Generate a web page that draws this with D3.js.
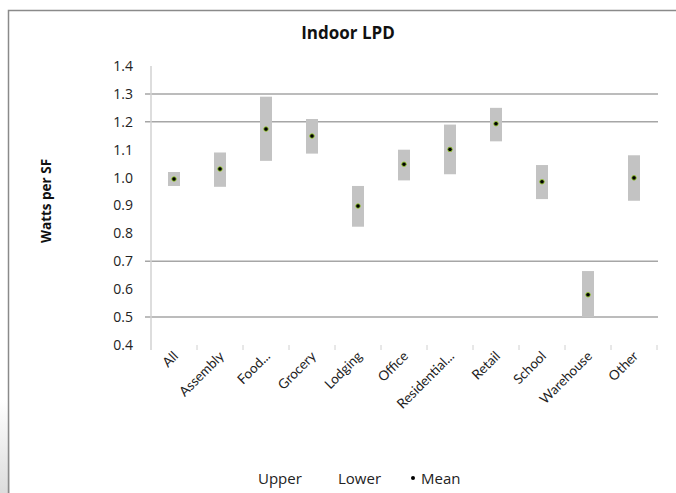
<!DOCTYPE html>
<html>
<head>
<meta charset="utf-8">
<script src="https://cdn.jsdelivr.net/npm/d3@7"></script>
<style>
  html, body { margin: 0; padding: 0; background: #fff; }
  svg { display: block; }
</style>
</head>
<body>
<svg id="chart" width="676" height="493"></svg>
<script>
// Indoor lighting power density by building type (W/SF): range and mean
const categories = ["All", "Assembly", "Food...", "Grocery", "Lodging", "Office",
  "Residential...", "Retail", "School", "Warehouse", "Other"];
const upper = [1.02, 1.09, 1.29, 1.21, 0.97, 1.10, 1.19, 1.25, 1.045, 0.665, 1.08];
const lower = [0.97, 0.967, 1.06, 1.086, 0.824, 0.99, 1.012, 1.13, 0.923, 0.50, 0.917];
const mean  = [0.995, 1.031, 1.174, 1.149, 0.898, 1.048, 1.101, 1.193, 0.985, 0.58, 0.999];
const yTicks = [0.4, 0.5, 0.6, 0.7, 0.8, 0.9, 1.0, 1.1, 1.2, 1.3, 1.4];
const gridValues = [0.5, 0.7, 1.2, 1.3];
const legendItems = ["Upper", "Lower", "Mean"];

const svg = d3.select("#chart");
const font = "'Open Sans', 'Noto Sans', sans-serif";
const labelFont = "Lato, 'Open Sans', sans-serif";

// outer chart frame (top and left edges)
const defs = svg.append("defs");
const shade = defs.append("linearGradient").attr("id", "shade")
  .attr("x1", 0).attr("y1", 0).attr("x2", 0).attr("y2", 1);
shade.append("stop").attr("offset", "0%").attr("stop-color", "#fff");
shade.append("stop").attr("offset", "100%").attr("stop-color", "#dcdcdc");
svg.append("rect").attr("x", 0).attr("y", 400).attr("width", 10).attr("height", 93)
  .attr("fill", "url(#shade)");
svg.append("path").attr("d", "M8.5,493 L8.5,10.5 L676,10.5")
  .attr("fill", "none").attr("stroke", "#8a8a8a").attr("stroke-width", 1.5);

const x = d3.scaleBand().domain(categories).range([151, 657]);
const y = d3.scaleLinear().domain([0.4, 1.4]).range([345, 66]);

// horizontal gridlines
svg.append("g").selectAll("line").data(gridValues).join("line")
  .attr("x1", 145).attr("x2", 658)
  .attr("y1", d => y(d)).attr("y2", d => y(d))
  .attr("stroke", "#a6a6a6").attr("stroke-width", 1.5);

// y axis
const yAxis = svg.append("g").attr("transform", "translate(151,0)")
  .call(d3.axisLeft(y).tickValues(yTicks).tickFormat(d3.format(".1f")).tickSize(0).tickPadding(18));
yAxis.select(".domain").attr("stroke", "#d2d2d2").attr("stroke-width", 1.5)
  .attr("d", "M0,66V350");
yAxis.selectAll("text").attr("font-family", font).attr("font-size", 14).attr("fill", "#222");

// x axis ticks and labels
const xAxis = svg.append("g").attr("transform", "translate(0,345)")
  .call(d3.axisBottom(x).tickSize(0).tickFormat(""));
xAxis.select(".domain").remove();
svg.append("g").selectAll("line").data(categories).join("line")
  .attr("x1", d => x(d) + x.bandwidth()).attr("x2", d => x(d) + x.bandwidth())
  .attr("y1", 345).attr("y2", 350)
  .attr("stroke", "#d0d0d0").attr("stroke-width", 1);
svg.append("g").selectAll("text").data(categories).join("text")
  .attr("transform", d => `translate(${x(d) + x.bandwidth() / 2 + 5},${357}) rotate(-45)`)
  .attr("text-anchor", "end")
  .attr("font-family", labelFont).attr("font-size", 13.5).attr("fill", "#222")
  .text(d => d);

// range bars (lower to upper)
const barW = 12;
svg.append("g").selectAll("rect").data(categories).join("rect")
  .attr("x", d => x(d) + x.bandwidth() / 2 - barW / 2)
  .attr("width", barW)
  .attr("y", (d, i) => y(upper[i]))
  .attr("height", (d, i) => y(lower[i]) - y(upper[i]))
  .attr("fill", "#c3c3c3");

// mean markers
svg.append("g").selectAll("circle").data(categories).join("circle")
  .attr("cx", d => x(d) + x.bandwidth() / 2)
  .attr("cy", (d, i) => y(mean[i]))
  .attr("r", 2.3)
  .attr("fill", "#000").attr("stroke", "#9acd32").attr("stroke-width", 0.9);

// title
svg.append("text").attr("x", 348).attr("y", 39).attr("text-anchor", "middle")
  .attr("font-family", font).attr("font-weight", "bold").attr("font-size", 17)
  .attr("fill", "#111").text("Indoor LPD");

// y axis title
svg.append("text").attr("transform", "translate(51,201) rotate(-90)")
  .attr("text-anchor", "middle")
  .attr("font-family", font).attr("font-weight", "bold").attr("font-size", 13.5)
  .attr("fill", "#111").text("Watts per SF");

// legend
const legend = svg.append("g").attr("font-family", font).attr("font-size", 15).attr("fill", "#222");
legend.append("text").attr("x", 258).attr("y", 484).text(legendItems[0]);
legend.append("text").attr("x", 338).attr("y", 484).text(legendItems[1]);
legend.append("circle").attr("cx", 413).attr("cy", 478).attr("r", 2).attr("fill", "#000");
legend.append("text").attr("x", 421).attr("y", 484).text(legendItems[2]);
</script>
</body>
</html>
